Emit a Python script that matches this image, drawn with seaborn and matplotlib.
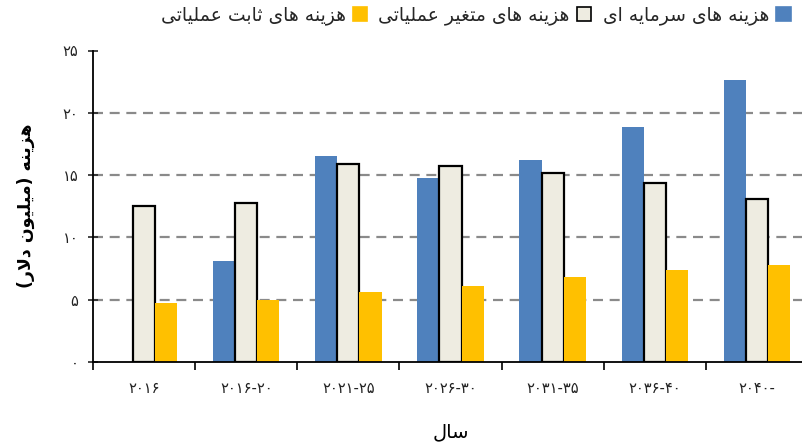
import matplotlib
matplotlib.use("Agg")
import matplotlib.pyplot as plt
from matplotlib.patches import Patch
from matplotlib.ticker import FixedLocator
import seaborn as sns
import pandas as pd

# ---- data -------------------------------------------------------------
periods = ["۲۰۱۶", "۲۰۱۶-۲۰", "۲۰۲۱-۲۵", "۲۰۲۶-۳۰", "۲۰۳۱-۳۵", "۲۰۳۶-۴۰", "۲۰۴۰-"]
series_names = ["هزینه های سرمایه ای", "هزینه های متغیر عملیاتی", "هزینه های ثابت عملیاتی"]
capital_cost = [0.0, 8.1, 16.5, 14.8, 16.2, 18.9, 22.6]
variable_opex = [12.5, 12.8, 15.9, 15.7, 15.2, 14.4, 13.1]
fixed_opex = [4.7, 5.0, 5.6, 6.1, 6.8, 7.4, 7.8]
y_ticks = [0, 5, 10, 15, 20, 25]
y_tick_labels = ["۰", "۵", "۱۰", "۱۵", "۲۰", "۲۵"]
x_title = "سال"
y_title = "هزینه (میلیون دلار)"
colors = ["#4F81BD", "#EEECE1", "#FFC000"]

# ---- minimal Arabic-script shaping (presentation forms, visual order) --
FORMS = {
    "ا": ("\uFE8D", "\uFE8E", None, None),
    "ب": ("\uFE8F", "\uFE90", "\uFE91", "\uFE92"),
    "ت": ("\uFE95", "\uFE96", "\uFE97", "\uFE98"),
    "ث": ("\uFE99", "\uFE9A", "\uFE9B", "\uFE9C"),
    "د": ("\uFEA9", "\uFEAA", None, None),
    "ر": ("\uFEAD", "\uFEAE", None, None),
    "ز": ("\uFEAF", "\uFEB0", None, None),
    "س": ("\uFEB1", "\uFEB2", "\uFEB3", "\uFEB4"),
    "ع": ("\uFEC9", "\uFECA", "\uFECB", "\uFECC"),
    "غ": ("\uFECD", "\uFECE", "\uFECF", "\uFED0"),
    "ل": ("\uFEDD", "\uFEDE", "\uFEDF", "\uFEE0"),
    "م": ("\uFEE1", "\uFEE2", "\uFEE3", "\uFEE4"),
    "ن": ("\uFEE5", "\uFEE6", "\uFEE7", "\uFEE8"),
    "ه": ("\uFEE9", "\uFEEA", "\uFEEB", "\uFEEC"),
    "و": ("\uFEED", "\uFEEE", None, None),
    "ی": ("\uFBFC", "\uFBFD", "\uFBFE", "\uFBFF"),
}


def _joins_forward(c):
    return c in FORMS and FORMS[c][2] is not None


def rtl(text):
    out = []
    i, n = 0, len(text)
    while i < n:
        c = text[i]
        if c not in FORMS:
            out.append(c)
            i += 1
            continue
        link_prev = i > 0 and _joins_forward(text[i - 1])
        if c == "ل" and i + 1 < n and text[i + 1] == "ا":
            out.append("\uFEFC" if link_prev else "\uFEFB")
            i += 2
            continue
        nxt = text[i + 1] if i + 1 < n else ""
        link_next = _joins_forward(c) and nxt in FORMS
        iso, fin, ini, med = FORMS[c]
        if link_prev and link_next:
            g = med
        elif link_prev:
            g = fin
        elif link_next:
            g = ini
        else:
            g = iso
        out.append(g)
        i += 1
    vis = "".join(out)[::-1]
    return vis.translate(str.maketrans({"(": ")", ")": "("}))


# ---- build long table ---------------------------------------------------
rows = []
for name, vals in zip(series_names, [capital_cost, variable_opex, fixed_opex]):
    for p, v in zip(periods, vals):
        rows.append({"period": p, "series": name, "value": v})
df = pd.DataFrame(rows)

sns.set_theme(style="white")
plt.rcParams["font.family"] = ["DejaVu Sans"]

fig = plt.figure(figsize=(8.02, 4.45), dpi=100)
ax = fig.add_axes([93 / 802, 83 / 445, 715 / 802, 311.5 / 445])

sns.barplot(data=df, x="period", y="value", hue="series", order=periods,
            hue_order=series_names, palette=colors, width=0.65,
            saturation=1, errorbar=None, ax=ax, legend=False)

# outlined bars for the variable operating cost series
for bar in ax.containers[1]:
    bar.set_edgecolor("black")
    bar.set_linewidth(1.6)
for idx in (0, 2):
    for bar in ax.containers[idx]:
        bar.set_linewidth(0)

ax.set_xlim(-0.5, len(periods) - 0.5)
ax.set_ylim(0, 25)

# y axis
ax.set_yticks(y_ticks)
ax.set_yticklabels(y_tick_labels, fontsize=10.5, color="#222222")
ax.tick_params(axis="y", direction="inout", length=7, width=1.2, pad=7, left=True)
ax.yaxis.grid(True, linestyle=(0, (4.5, 3)), color="#8a8a8a", linewidth=1.6)
gl = ax.yaxis.get_gridlines()
gl[0].set_visible(False)
gl[-1].set_visible(False)
ax.set_axisbelow(True)

# x axis: labels centred, ticks at group boundaries
ax.set_xticks(range(len(periods)))
ax.set_xticklabels(periods, fontsize=10.5, color="#222222")
ax.tick_params(axis="x", which="major", length=0, pad=14)
ax.xaxis.set_minor_locator(FixedLocator([i - 0.5 for i in range(len(periods) + 1)]))
ax.tick_params(axis="x", which="minor", direction="out", length=6, width=1.2,
               bottom=True, color="black")

for side in ("top", "right"):
    ax.spines[side].set_visible(False)
for side in ("left", "bottom"):
    ax.spines[side].set_color("black")
    ax.spines[side].set_linewidth(1.3)

ax.set_xlabel(rtl(x_title), fontsize=14, labelpad=19, color="black")
ax.set_ylabel(rtl(y_title), fontsize=12.5, fontweight="bold", labelpad=20, color="black")

# legend: markers on the right of the text, right-to-left order
handles = [Patch(facecolor=c, edgecolor=("black" if i == 1 else c), linewidth=1.2)
           for i, c in enumerate(colors)]
labels = [rtl(s) for s in series_names]
order = [2, 1, 0]
fig.legend([handles[i] for i in order], [labels[i] for i in order],
           loc="center", bbox_to_anchor=(0.593, 0.966), ncol=3, frameon=False,
           markerfirst=False, fontsize=13.5, handlelength=0.75, handleheight=0.75,
           handletextpad=0.4, columnspacing=0.6)

fig.savefig("out.png", dpi=100)
